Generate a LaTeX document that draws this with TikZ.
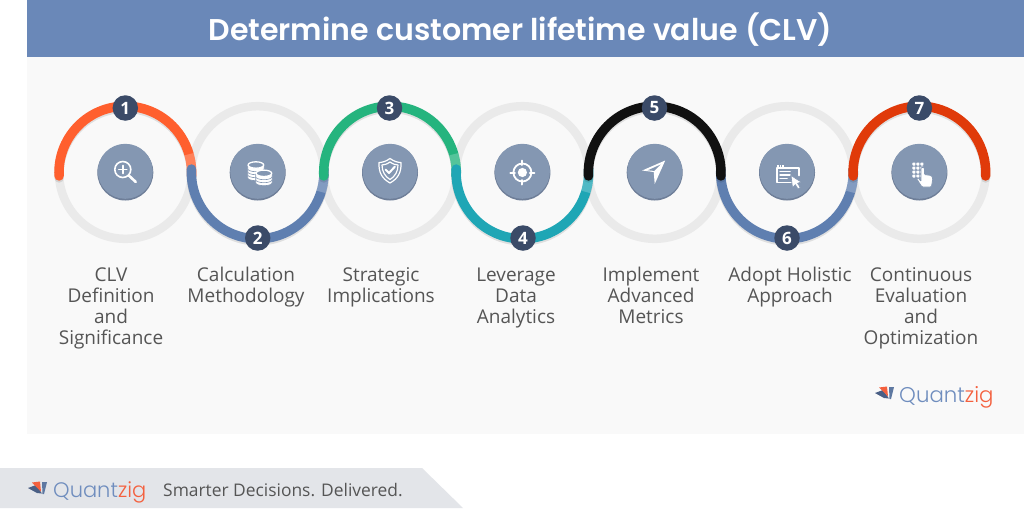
\documentclass[tikz,border=0pt]{standalone}
\usepackage{fontspec}
\setmainfont{Open Sans}
\newfontfamily\logofont{Poppins Light}
\newfontfamily\titlefont{Poppins SemiBold}
\definecolor{hdr}{HTML}{6A88B8}
\definecolor{panel}{HTML}{F9F9F9}
\definecolor{ring}{HTML}{EAEAEA}
\definecolor{strip}{HTML}{E3E5E9}
\definecolor{disc}{HTML}{8497B2}
\definecolor{discd}{HTML}{6E7E98}
\definecolor{badge}{HTML}{3B4B68}
\definecolor{txt}{HTML}{555555}
\definecolor{cOrange}{HTML}{FF5F2E}
\definecolor{cBlue}{HTML}{5F7FB0}
\definecolor{cGreen}{HTML}{25B47E}
\definecolor{cTeal}{HTML}{1FA6B5}
\definecolor{cBlack}{HTML}{111111}
\definecolor{cRed}{HTML}{E03A0A}
\definecolor{logoB}{HTML}{6F8DBE}
\definecolor{logoO}{HTML}{F4603E}
\definecolor{logoD}{HTML}{4A5F85}
\tikzset{
  x=1pt,y=-1pt,
  ringline/.style={draw=ring,line width=8.5pt},
  arcline/.style={line width=9.5pt,line cap=round},
  arcshade/.style={line width=9.5pt,line cap=round,draw=black,opacity=.10},
  fadeline/.style={line width=9.6pt,draw=white,opacity=.22},
  badgenode/.style={circle,fill=badge,draw=none,minimum size=25.5pt,inner sep=0pt,text=white,font=\fontsize{17}{17}\selectfont\bfseries},
  discnode/.style={circle,fill=disc,draw=none,minimum size=55pt,inner sep=0pt},
  discback/.style={circle,fill=discd,draw=none,minimum size=56pt,inner sep=0pt},
  caption/.style={anchor=north,align=center,inner sep=0pt,text=txt,font=\fontsize{19}{21}\selectfont},
  icon/.style={draw=white,fill=none,line width=1.6pt,line cap=round,line join=round},
  coinside/.style={draw=disc,fill=white,line width=.6pt},
  cointop/.style={draw=white,fill=disc,line width=1.3pt},
}
% Upper half arc (start below the centre line, over the top)
\newcommand{\uparc}[2]{%
  \draw[arcshade] ([shift={(183:66.3pt)}]$(#1)+(0,2)$) arc[start angle=183,end angle=-3,radius=66.3pt];
  \draw[arcline,draw=#2] ([shift={(183:66.3pt)}]#1) arc[start angle=183,end angle=-3,radius=66.3pt];}
% Lower half arc (start above the centre line, under the bottom)
\newcommand{\lowarc}[2]{%
  \draw[arcshade] ([shift={(177:66.3pt)}]$(#1)+(0,2)$) arc[start angle=177,end angle=363,radius=66.3pt];
  \draw[arcline,draw=#2] ([shift={(177:66.3pt)}]#1) arc[start angle=177,end angle=363,radius=66.3pt];
  \draw[fadeline] ([shift={(357:66.3pt)}]#1) arc[start angle=357,end angle=343,radius=66.3pt];}
% Paler tail of an upper arc where the next arc starts on top of it
\newcommand{\uptail}[1]{%
  \draw[fadeline] ([shift={(3:66.3pt)}]#1) arc[start angle=3,end angle=16,radius=66.3pt];}
% Company mark: a small fan of pages, placed by its left tip
\newcommand{\markfan}[2]{%
  \begin{scope}[shift={(#1,#2)}]
    \fill[logoD] (0,0) -- (8,-3) -- (14,5.5) -- (9,5) -- cycle;
    \fill[logoO] (4,-5.5) -- (12,-6.5) -- (13,3.5) -- cycle;
    \fill[logoB!85!black] (14,-6) -- (19,-6) -- (16,6) -- (14.5,6) -- cycle;
  \end{scope}}
% One coin of a stack, left edge and top line given
\newcommand{\coin}[2]{%
  \draw[coinside] (#1,#2) -- (#1,#2+3.2) arc[start angle=180,end angle=360,x radius=8.2pt,y radius=3pt] -- (#1+16.4,#2);}
\usetikzlibrary{calc}
\begin{document}
\begin{tikzpicture}
\useasboundingbox (0,0) rectangle (1024,512);
\fill[white] (0,0) rectangle (1024,512);
% header band and panel
\fill[panel] (27,57) rectangle (1024,434);
\fill[hdr] (27,0) rectangle (1024,57);
\node[anchor=base,text=white,inner sep=0pt,font=\titlefont\fontsize{30}{36}\selectfont] (title) at (520.5,40) {Determine customer lifetime value (CLV)};
% circle centres
\coordinate (c1) at (125.3,172.5);
\coordinate (c2) at (257.7,172.5);
\coordinate (c3) at (390,172.5);
\coordinate (c4) at (522.4,172.5);
\coordinate (c5) at (654.7,172.5);
\coordinate (c6) at (787,172.5);
\coordinate (c7) at (919.4,172.5);
% pale rings
\foreach \c in {c1,c2,c3,c4,c5,c6,c7}
  \draw[ringline] (\c) circle[radius=66.3pt];
% coloured arcs, layered where they meet
\uparc{c1}{cOrange}\uptail{c1}
\lowarc{c2}{cBlue}
\uparc{c3}{cGreen}\uptail{c3}
\lowarc{c4}{cTeal}
\lowarc{c6}{cBlue}
\uparc{c5}{cBlack}
\uparc{c7}{cRed}
% icon discs
\foreach \c/\n in {c1/1,c2/2,c3/3,c4/4,c5/5,c6/6,c7/7}{
  \node[discback] (back\n) at ($(\c)+(0,0)$) {};
  \node[discnode] (disc\n) at ($(\c)+(0,-1.2)$) {};
}
% step badges
\node[badgenode] (b1) at (125.3,108) {1};
\node[badgenode] (b2) at (257.7,238) {2};
\node[badgenode] (b3) at (389.5,108) {3};
\node[badgenode] (b4) at (523,238) {4};
\node[badgenode] (b5) at (654.5,108) {5};
\node[badgenode] (b6) at (787,238) {6};
\node[badgenode] (b7) at (919.4,108) {7};
% magnifier
\begin{scope}[shift={(c1)}]
  \draw[icon] (-2.5,-3) circle[radius=8pt];
  \draw[icon] (-6.5,-3) -- (1.5,-3) (-2.5,-7) -- (-2.5,1);
  \draw[icon,line width=2.6pt] (3.5,3) -- (10.5,9.5);
\end{scope}
% coins
\begin{scope}[shift={(c2)}]
  \coin{-10}{2}\coin{-10}{-1}\coin{-10}{-4}\coin{-10}{-7}
  \draw[cointop] (-1.8,-7.5) ellipse[x radius=7.8pt,y radius=3.2pt];
  \coin{-2}{7}\coin{-2}{4}\coin{-2}{1}
  \draw[cointop] (6.2,0.8) ellipse[x radius=7.8pt,y radius=3.2pt];
\end{scope}
% shield
\begin{scope}[shift={(c3)}]
  \draw[icon,line width=1.2pt] (0,-14) .. controls (4,-11) and (8,-10) .. (11,-10) .. controls (11.5,0) and (8,6) .. (0,10.5) .. controls (-8,6) and (-11.5,0) .. (-11,-10) .. controls (-8,-10) and (-4,-11) .. (0,-14) -- cycle;
  \draw[icon,line width=1.2pt] (0,-10.5) .. controls (3,-8.5) and (5.5,-7.5) .. (8,-7.5) .. controls (8,-1) and (5,4) .. (0,7) .. controls (-5,4) and (-8,-1) .. (-8,-7.5) .. controls (-5.5,-7.5) and (-3,-8.5) .. (0,-10.5) -- cycle;
  \draw[icon,line width=2pt] (-4.5,-3) -- (-1,0.5) -- (5,-6);
\end{scope}
% target
\begin{scope}[shift={(c4)}]
  \draw[icon,line width=1.8pt] (0,0) circle[radius=9pt];
  \fill[white] (0,0) circle[radius=4.6pt];
  \draw[icon,line width=2pt] (-12,0) -- (-7.5,0) (12,0) -- (7.5,0) (0,-12) -- (0,-7.5) (0,12) -- (0,7.5);
\end{scope}
% paper plane
\begin{scope}[shift={(c5)}]
  \fill[white] (10.5,-12) -- (-12.5,-2) -- (-1,-0.5) -- (0,11.5) -- cycle;
  \fill[disc] (6,-8) -- (-7,-2.2) -- (-0.5,-1.6) -- cycle;
\end{scope}
% window with pointer
\begin{scope}[shift={(c6)}]
  \draw[icon,line width=1.5pt] (4,10) -- (-10,10) -- (-10,-4.5) -- (12,-4.5) -- (12,3);
  \draw[icon,line width=1.5pt] (-7,-1) -- (3,-1);
  \draw[icon,line width=1.5pt] (-7,2.5) -- (3,2.5) (-7,6) -- (0,6);
  \foreach \xx in {-10,-7.5,-5} \fill[white] (\xx,-7.5) rectangle +(1.5,1.5);
  \fill[white,draw=disc,line width=.6pt] (4,3) -- (5.5,15) -- (8.4,12.2) -- (11,16.5) -- (13.2,15) -- (10.6,10.8) -- (14,9.5) -- cycle;
\end{scope}
% keypad and hand
\begin{scope}[shift={(c7)}]
  \foreach \yy in {-10,-6,-2,2} \foreach \xx in {-7,-3,1}
    \fill[white,rounded corners=.6pt] (\xx,\yy) rectangle +(3,3);
  \fill[draw=disc,line width=.8pt,fill=white,rounded corners=1pt] (1.5,9) -- (1.5,-5) -- (5,-5) -- (5,2) -- (12,3) -- (13.5,6) -- (12,14.5) -- (2.5,14.5) -- (-3,6) -- (-1,5) -- cycle;
\end{scope}
% captions
\node[caption] (t1) at (111,267) {\rule{0pt}{14pt}CLV\\Definition\\and\\Significance};
\node[caption] (t2) at (246,267) {\rule{0pt}{14pt}Calculation\\Methodology};
\node[caption] (t3) at (381,267) {\rule{0pt}{14pt}Strategic\\Implications};
\node[caption] (t4) at (516,267) {\rule{0pt}{14pt}Leverage\\Data\\Analytics};
\node[caption] (t5) at (651,267) {\rule{0pt}{14pt}Implement\\Advanced\\Metrics};
\node[caption] (t6) at (790,267) {\rule{0pt}{14pt}Adopt Holistic\\Approach};
\node[caption] (t7) at (921,267) {\rule{0pt}{14pt}Continuous\\Evaluation\\and\\Optimization};
% panel logo
\markfan{875}{393}
\node[anchor=base west,inner sep=0pt,font=\logofont\fontsize{21.3}{21}\selectfont] (logo) at (899,402) {\textcolor{logoB}{Quant}\textcolor{logoO}{zig}};
% footer strip
\fill[strip] (0,468) -- (422,468) -- (463,508) -- (0,508) -- cycle;
\markfan{28}{488}
\node[anchor=base west,inner sep=0pt,font=\logofont\fontsize{21}{21}\selectfont] (flogo) at (53,497) {\textcolor{logoB}{Quant}\textcolor{logoO}{zig}};
\node[anchor=base west,inner sep=0pt,text=txt,font=\fontsize{17.4}{20}\selectfont] (tag) at (163,496) {Smarter Decisions. Delivered.};
\end{tikzpicture}
\end{document}
